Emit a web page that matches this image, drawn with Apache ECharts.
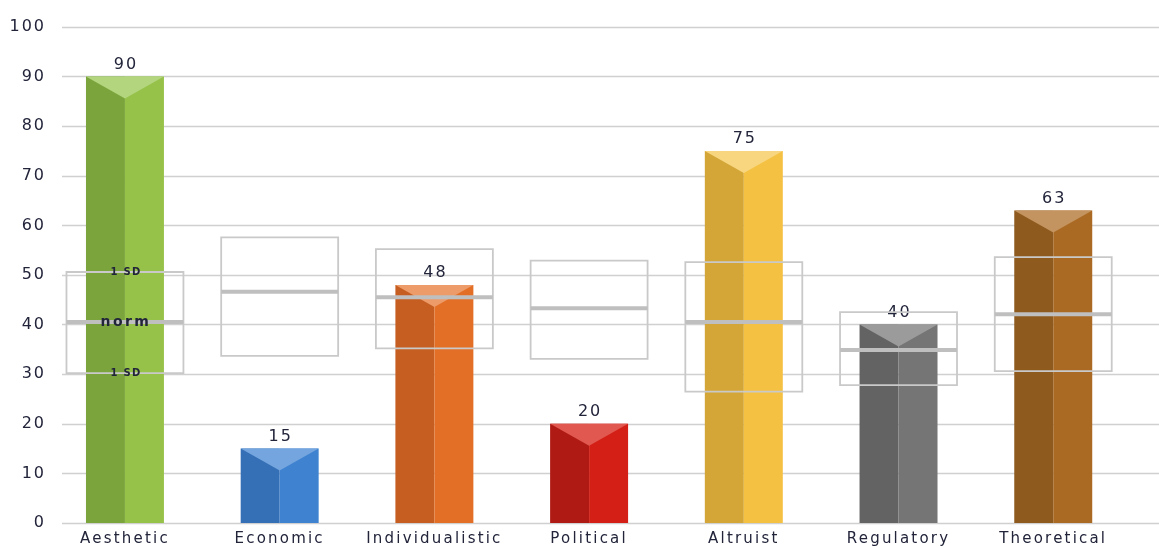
<!DOCTYPE html>
<html>
<head>
<meta charset="utf-8">
<script src="https://cdn.jsdelivr.net/npm/echarts@6/dist/echarts.min.js"></script>
<style>
html,body{margin:0;padding:0;background:#fff;}
#chart{width:1159px;height:548px;}
</style>
</head>
<body>
<div id="chart"></div>
<script>
var categories = ['Aesthetic','Economic','Individualistic','Political','Altruist','Regulatory','Theoretical'];
var values = [90, 15, 48, 20, 75, 40, 63];
var normValues = [40.5, 46.6, 45.5, 43.3, 40.5, 34.9, 42.1];
var sdUpper = [50.6, 57.6, 55.2, 52.9, 52.6, 42.5, 53.6];
var sdLower = [30.2, 33.7, 35.2, 33.1, 26.5, 27.8, 30.6];
var yTicks = [0, 10, 20, 30, 40, 50, 60, 70, 80, 90, 100];

var leftColors  = ['#7ba53c','#3570b6','#c55e20','#b01a15','#d3a637','#636363','#8e5a1e'];
var rightColors = ['#96c24a','#3e82d0','#e36f26','#d31f16','#f4c143','#757575','#aa6a23'];
var topColors   = ['#b2d57e','#74a5de','#ec9b69','#e0584f','#f8d67f','#9b9b9b','#c49460'];

var textColor = '#22243a';
var fontFam = '"DejaVu Sans", "Noto Sans", sans-serif';

// wide letter spacing like the original's text rendering
(function () {
  var proto = CanvasRenderingContext2D.prototype;
  var orig = proto.fillText;
  var spacingBySize = {'10px': '1.3px', '14px': '2.4px', '15px': '2.2px', '16px': '2px'};
  proto.fillText = function () {
    try {
      var m = /(\d+(?:\.\d+)?px)/.exec(this.font || '');
      var sp = m && spacingBySize[m[1]];
      if ('letterSpacing' in this) this.letterSpacing = sp || '0px';
    } catch (e) {}
    return orig.apply(this, arguments);
  };
})();

var chart = echarts.init(document.getElementById('chart'));

function barItem(params, api) {
  var idx = api.value(0);
  var val = api.value(1);
  var top = api.coord([idx, val]);
  var base = api.coord([idx, 0]);
  var catW = api.size([1, 0])[0];
  var w = catW * 0.504;
  var x0 = top[0] - w / 2;
  var h = base[1] - top[1];
  var d = 22;
  return {
    type: 'group',
    children: [
      {type: 'rect', shape: {x: x0, y: top[1], width: w / 2, height: h}, style: {fill: leftColors[idx]}},
      {type: 'rect', shape: {x: top[0], y: top[1], width: w / 2, height: h}, style: {fill: rightColors[idx]}},
      {type: 'polygon', shape: {points: [[x0, top[1]], [x0 + w, top[1]], [top[0], top[1] + d]]}, style: {fill: topColors[idx]}},
      {type: 'text', x: top[0] + 1, y: top[1] - 4, style: {text: String(val), fill: textColor, font: '16px ' + fontFam, textAlign: 'center', textVerticalAlign: 'bottom'}}
    ]
  };
}

function normItem(params, api) {
  var idx = api.value(0);
  var up = api.coord([idx, api.value(1)]);
  var mid = api.coord([idx, api.value(2)]);
  var lo = api.coord([idx, api.value(3)]);
  var catW = api.size([1, 0])[0];
  var w = catW * 0.756;
  var x0 = up[0] - w / 2;
  var children = [
    {type: 'rect', shape: {x: x0, y: up[1], width: w, height: lo[1] - up[1]}, style: {fill: 'none', stroke: '#c9c9c9', lineWidth: 1.8}},
    {type: 'line', shape: {x1: x0, y1: mid[1], x2: x0 + w, y2: mid[1]}, style: {stroke: '#bfbfbf', lineWidth: 4}}
  ];
  if (idx === 0) {
    children.push({type: 'text', x: up[0] + 1, y: up[1], style: {text: '1 SD', fill: textColor, font: 'bold 10px ' + fontFam, textAlign: 'center', textVerticalAlign: 'middle'}});
    children.push({type: 'text', x: mid[0] + 1, y: mid[1], style: {text: 'norm', fill: textColor, font: 'bold 14px ' + fontFam, textAlign: 'center', textVerticalAlign: 'middle'}});
    children.push({type: 'text', x: lo[0] + 1, y: lo[1], style: {text: '1 SD', fill: textColor, font: 'bold 10px ' + fontFam, textAlign: 'center', textVerticalAlign: 'middle'}});
  }
  return {type: 'group', children: children};
}

var barData = values.map(function (v, i) { return [i, v]; });
var normData = normValues.map(function (v, i) { return [i, sdUpper[i], v, sdLower[i]]; });

var option = {
  animation: false,
  backgroundColor: '#ffffff',
  grid: [
    {left: 62, right: 0, top: 27, bottom: 25},
    {left: 47.6, right: 28.4, top: 27, bottom: 25}
  ],
  xAxis: [
    {type: 'value', gridIndex: 0, min: 0, max: 1, show: false},
    {type: 'category', gridIndex: 1, data: categories,
     axisLine: {show: false}, axisTick: {show: false}, splitLine: {show: false},
     axisLabel: {color: textColor, fontSize: 15, fontFamily: fontFam, margin: 9}}
  ],
  yAxis: [
    {type: 'value', gridIndex: 0, min: 0, max: 100, interval: 10,
     axisLine: {show: false}, axisTick: {show: false},
     splitLine: {show: true, lineStyle: {color: '#d0d0d0', width: 1.3}},
     axisLabel: {color: textColor, fontSize: 16, fontFamily: fontFam, margin: 16,
       formatter: function (v) { return yTicks.indexOf(v) >= 0 ? String(v) : ''; }}},
    {type: 'value', gridIndex: 1, min: 0, max: 100, show: false}
  ],
  series: [
    {type: 'custom', xAxisIndex: 1, yAxisIndex: 1, renderItem: barItem, data: barData, z: 2},
    {type: 'custom', xAxisIndex: 1, yAxisIndex: 1, renderItem: normItem, data: normData, z: 3}
  ]
};
chart.setOption(option);
</script>
</body>
</html>
